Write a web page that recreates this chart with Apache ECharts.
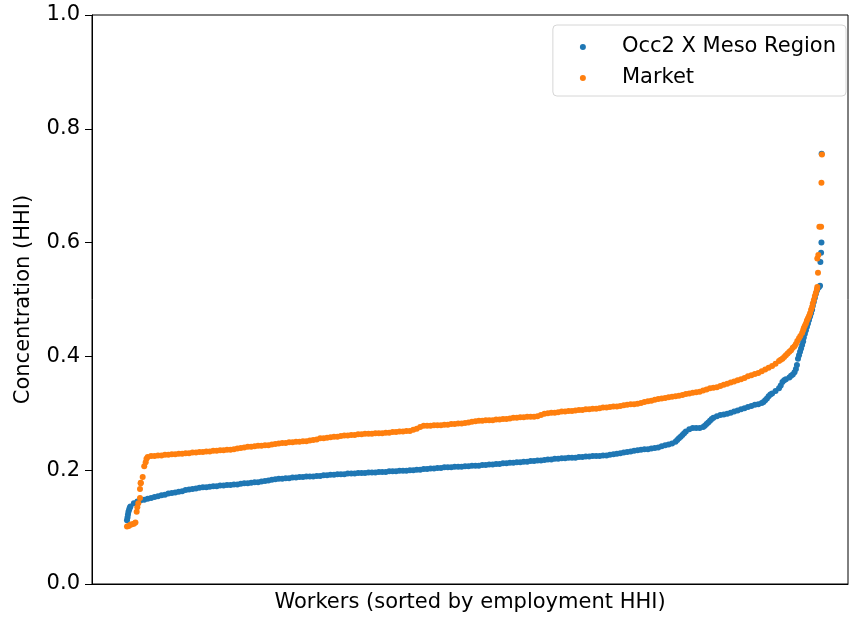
<!DOCTYPE html>
<html>
<head>
<meta charset="utf-8">
<script src="https://cdn.jsdelivr.net/npm/echarts@6/dist/echarts.min.js"></script>
<style>html,body{margin:0;padding:0;background:#fff;}#c{width:849px;height:618px;}</style>
</head>
<body>
<div id="c"></div>
<script>
// Sorted worker HHI values, one value per rank step (rank index = position)
const seriesNames = ['Occ2 X Meso Region', 'Market'];
const yTicks = [0, 0.2, 0.4, 0.6, 0.8, 1.0];

const occMesoMain = [
0.112,0.136,0.142,0.145,0.147,0.148,0.150,0.151,0.153,0.154,
0.156,0.157,0.159,0.160,0.161,0.162,0.163,0.165,0.166,0.167,
0.168,0.169,0.170,0.170,0.171,0.172,0.172,0.173,0.173,0.174,
0.174,0.175,0.175,0.176,0.177,0.177,0.178,0.179,0.179,0.180,
0.181,0.182,0.183,0.184,0.185,0.185,0.186,0.186,0.187,0.187,
0.188,0.188,0.189,0.189,0.189,0.190,0.190,0.191,0.191,0.192,
0.192,0.193,0.193,0.193,0.194,0.194,0.194,0.195,0.195,0.195,
0.196,0.196,0.196,0.197,0.197,0.197,0.198,0.198,0.198,0.199,
0.199,0.199,0.200,0.200,0.201,0.201,0.202,0.202,0.203,0.203,
0.204,0.204,0.205,0.205,0.205,0.206,0.206,0.206,0.207,0.207,
0.208,0.208,0.208,0.209,0.209,0.210,0.210,0.211,0.211,0.212,
0.212,0.213,0.213,0.214,0.214,0.215,0.215,0.216,0.216,0.217,
0.217,0.218,0.219,0.219,0.220,0.220,0.221,0.221,0.222,0.222,
0.222,0.223,0.223,0.224,0.224,0.225,0.225,0.225,0.226,0.226,
0.227,0.228,0.229,0.230,0.231,0.232,0.233,0.234,0.235,0.236,
0.237,0.237,0.238,0.239,0.240,0.242,0.244,0.245,0.247,0.250,
0.256,0.262,0.268,0.272,0.274,0.274,0.274,0.276,0.281,0.287,
0.292,0.295,0.297,0.298,0.299,0.301,0.303,0.305,0.307,0.309,
0.311,0.313,0.315,0.316,0.318,0.323,0.330,0.335,0.339,0.344,
0.355,0.360,0.363,0.368
];
// extra points [rank, value] where the curve is steep
const occMesoEnds = [
[0.15,0.117],[0.29,0.122],[0.43,0.127],[0.64,0.131],[0.81,0.134],
[159.5,0.253],[160.5,0.259],[161.5,0.265],[167.5,0.278],[168.5,0.284],[169.5,0.290],
[184.5,0.320],[185.5,0.326],[186.5,0.333],[189.5,0.349],[190.5,0.358],[192.5,0.366],
[193.5,0.372],[193.9,0.378],[194.2,0.385],[194.5,0.396],[194.8,0.402],
[195.1,0.408],[195.4,0.414],[195.7,0.420],[196.0,0.426],[196.2,0.433],
[196.5,0.440],[196.8,0.446],[197.1,0.452],[197.4,0.458],[197.7,0.464],
[198.0,0.470],[198.3,0.476],[198.6,0.482],[198.8,0.489],[199.1,0.496],
[199.4,0.503],[199.7,0.510],[200.0,0.516],[200.3,0.520],[200.6,0.522],
[200.9,0.524],[201.0,0.566],[201.2,0.582],[201.3,0.600],[201.35,0.756]
];

const marketMain = [
0.101,0.104,0.106,0.135,0.178,0.207,0.223,0.225,0.225,0.226,
0.226,0.227,0.227,0.228,0.228,0.229,0.229,0.230,0.230,0.231,
0.231,0.232,0.232,0.233,0.233,0.234,0.234,0.235,0.235,0.236,
0.236,0.237,0.238,0.239,0.240,0.241,0.241,0.242,0.243,0.243,
0.244,0.244,0.245,0.246,0.247,0.248,0.248,0.249,0.249,0.250,
0.250,0.251,0.251,0.252,0.253,0.254,0.256,0.256,0.257,0.258,
0.259,0.259,0.260,0.261,0.261,0.262,0.262,0.263,0.263,0.264,
0.264,0.264,0.265,0.265,0.265,0.266,0.266,0.267,0.267,0.268,
0.268,0.269,0.269,0.271,0.273,0.276,0.278,0.278,0.278,0.279,
0.279,0.279,0.280,0.280,0.281,0.281,0.282,0.282,0.283,0.284,
0.285,0.286,0.287,0.287,0.288,0.288,0.288,0.289,0.289,0.290,
0.290,0.291,0.292,0.292,0.293,0.293,0.294,0.294,0.294,0.295,
0.297,0.299,0.300,0.301,0.301,0.302,0.303,0.303,0.304,0.304,
0.305,0.306,0.306,0.307,0.307,0.308,0.308,0.309,0.310,0.310,
0.311,0.312,0.312,0.313,0.314,0.315,0.316,0.316,0.317,0.318,
0.320,0.321,0.322,0.324,0.325,0.326,0.327,0.328,0.329,0.330,
0.331,0.332,0.334,0.335,0.336,0.337,0.338,0.340,0.342,0.344,
0.345,0.346,0.348,0.350,0.352,0.354,0.356,0.358,0.360,0.362,
0.365,0.367,0.369,0.371,0.374,0.377,0.380,0.383,0.387,0.392,
0.396,0.402,0.408,0.415
];
const marketEnds = [
[0.5,0.102],[1.45,0.105],[2.46,0.108],[2.81,0.127],[3.28,0.142],
[3.77,0.151],[3.77,0.167],[3.97,0.177],[4.55,0.188],[5.42,0.214],[5.65,0.220],
[189.5,0.394],[190.5,0.399],[191.5,0.405],[192.5,0.411],
[193.5,0.418],[193.9,0.422],[194.3,0.427],[194.8,0.432],[195.2,0.436],
[195.7,0.441],[196.0,0.446],[196.2,0.450],[196.5,0.454],[196.8,0.458],
[197.1,0.463],[197.4,0.467],[197.7,0.471],[198.0,0.476],[198.3,0.482],
[198.6,0.487],[198.8,0.493],[199.1,0.499],[199.4,0.506],[199.7,0.512],
[200.0,0.518],[200.1,0.522],[200.3,0.547],[200.1,0.572],[200.4,0.578],
[200.7,0.628],[201.2,0.628],[201.3,0.705],[201.45,0.755]
];

function build(main, ends) {
  return main.map((v, i) => [i, v]).concat(ends);
}

const chart = echarts.init(document.getElementById('c'), null, {renderer: 'canvas'});
const FONT = 'DejaVu Sans';
chart.setOption({
  animation: false,
  backgroundColor: '#ffffff',
  textStyle: {fontFamily: FONT},
  grid: {left: 92, right: 1, top: 15, bottom: 34, show: true, borderColor: '#000', borderWidth: 1, backgroundColor: 'transparent'},
  legend: {
    orient: 'vertical',
    right: 3, top: 25,
    padding: [10, 10, 6, 27],
    itemGap: 7,
    itemWidth: 40, itemHeight: 6,
    icon: 'circle',
    borderColor: '#d6d6d6', borderWidth: 1, borderRadius: 4,
    backgroundColor: 'rgba(255,255,255,0.8)',
    textStyle: {fontFamily: FONT, fontSize: 21, color: '#000', lineHeight: 24, padding: [0, 0, 0, 14]},
    data: seriesNames
  },
  xAxis: {
    type: 'value', min: -10.14, max: 209,
    name: 'Workers (sorted by employment HHI)', nameLocation: 'middle', nameGap: 8,
    nameTextStyle: {fontFamily: FONT, fontSize: 21, color: '#000', verticalAlign: 'top'},
    axisLine: {show: true, onZero: false, lineStyle: {color: '#000', width: 1}},
    axisTick: {show: false}, axisLabel: {show: false}, splitLine: {show: false}
  },
  yAxis: {
    type: 'value', min: yTicks[0], max: yTicks[yTicks.length - 1], interval: 0.2,
    name: 'Concentration (HHI)', nameLocation: 'middle', nameGap: 58, nameRotate: 90,
    nameTextStyle: {fontFamily: FONT, fontSize: 21, color: '#000'},
    axisLine: {show: true, onZero: false, lineStyle: {color: '#000', width: 1}},
    axisTick: {show: true, length: 7, lineStyle: {color: '#000', width: 1}},
    axisLabel: {fontFamily: FONT, fontSize: 21, color: '#000', margin: 12, formatter: v => v.toFixed(1)},
    splitLine: {show: false}
  },
  series: [
    {name: seriesNames[0], type: 'scatter', symbolSize: 6, itemStyle: {color: '#1f77b4', opacity: 1}, data: build(occMesoMain, occMesoEnds)},
    {name: seriesNames[1], type: 'scatter', symbolSize: 6, itemStyle: {color: '#ff7f0e', opacity: 1}, data: build(marketMain, marketEnds)}
  ]
});
</script>
</body>
</html>
